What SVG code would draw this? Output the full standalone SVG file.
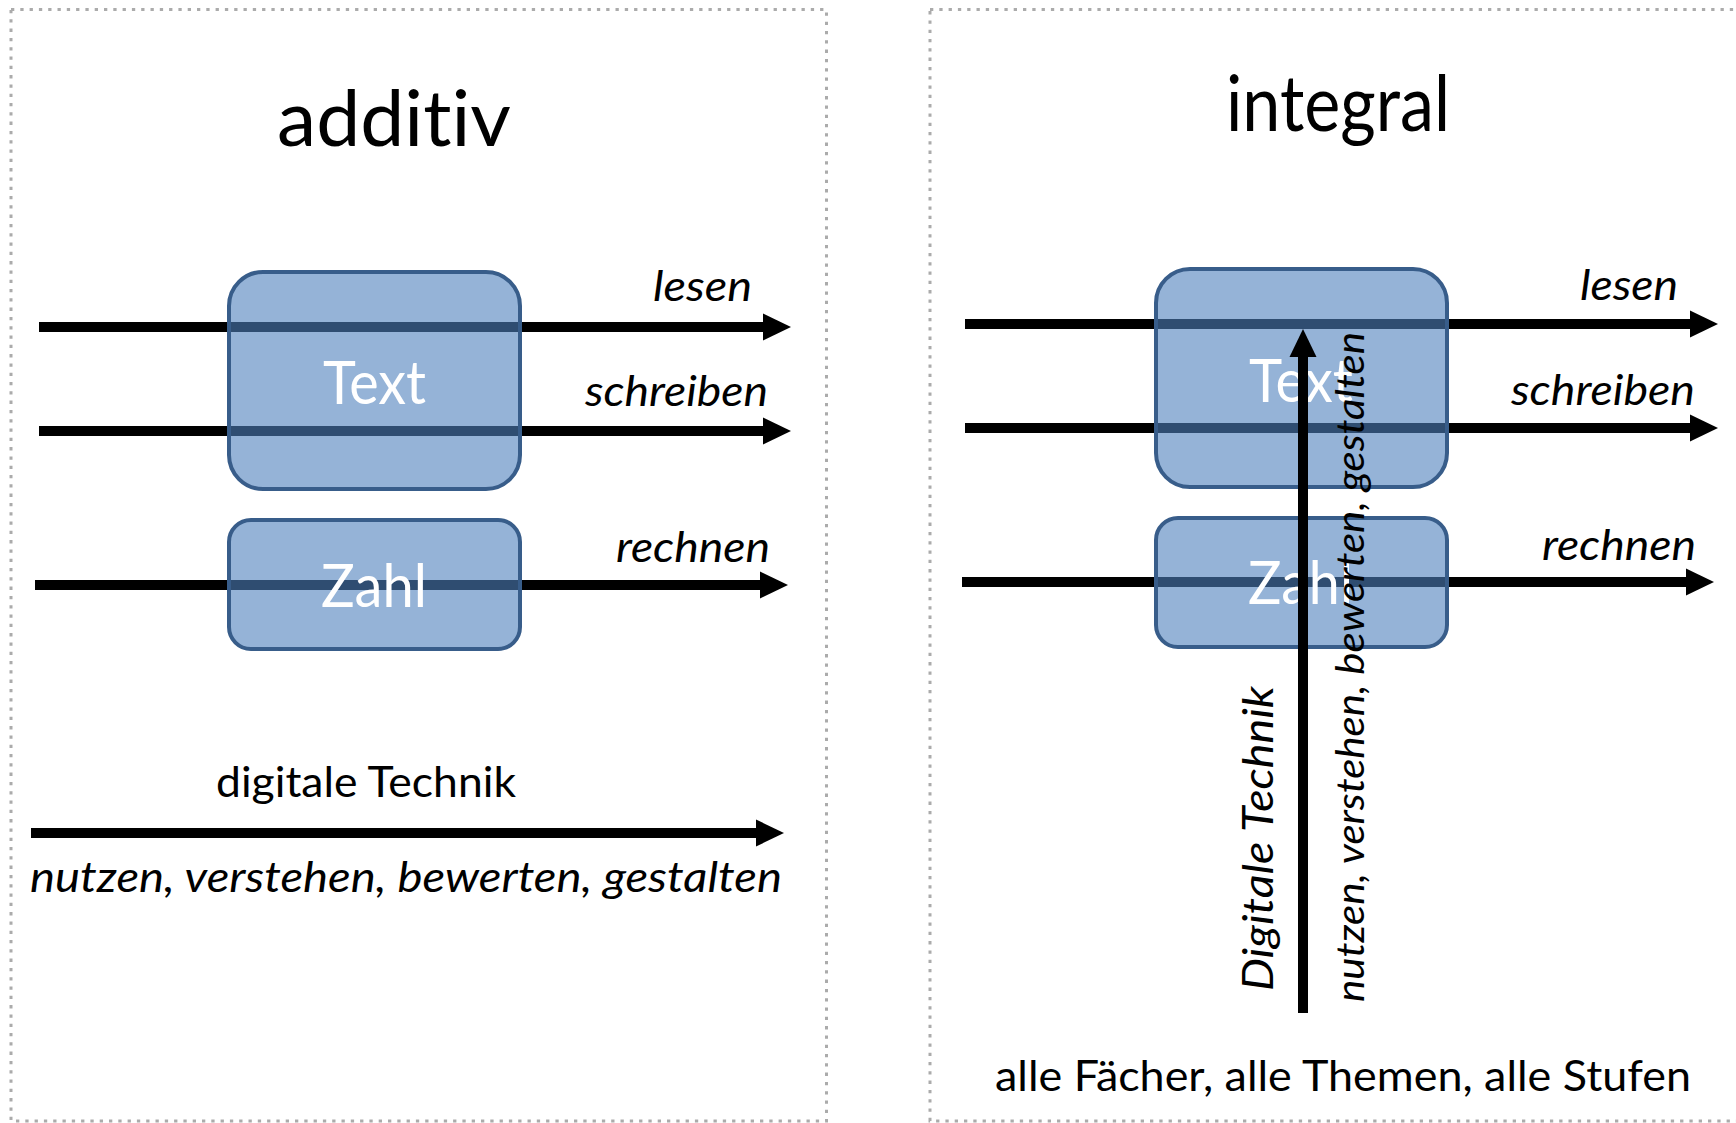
<svg xmlns="http://www.w3.org/2000/svg" width="1736" height="1123" viewBox="0 0 1736 1123">
  <defs>
    <marker id="ah" markerUnits="userSpaceOnUse" markerWidth="30" markerHeight="28" refX="0" refY="13.5" orient="auto" overflow="visible">
      <path d="M0,0 L28,13.5 L0,27 Z" fill="#000"/>
    </marker>
    <style>
      text { font-variant-ligatures: none; font-feature-settings: "liga" 0, "clig" 0; }
      .panel { fill: none; stroke: #ABABAB; stroke-width: 3; stroke-dasharray: 3.3 6; }
      .line { stroke: #000; stroke-width: 10; fill: none; marker-end: url(#ah); }
      .box { fill: #4F81BD; fill-opacity: 0.6; stroke: #385D8A; stroke-width: 4; }
      .boxlabel { font-family: Lato, "Open Sans", sans-serif; font-size: 60px; fill: #FFFFFF; }
      .title { font-family: Lato, "Open Sans", sans-serif; font-size: 77px; fill: #000; }
      .lbl { font-family: Lato, "Open Sans", sans-serif; font-size: 43px; font-style: italic; fill: #000; }
      .reg { font-family: Lato, "Open Sans", sans-serif; font-size: 43px; fill: #000; }
    </style>
  </defs>
  <rect width="1736" height="1123" fill="#FFFFFF"/>

  <g id="panels">
    <rect class="panel" x="11" y="9.5" width="815.5" height="1111.5"/>
    <rect class="panel" x="930" y="9.5" width="830" height="1111.5"/>
  </g>

  <g id="titles">
    <text class="title" x="277" y="146" textLength="234" lengthAdjust="spacingAndGlyphs">additiv</text>
    <text class="title" x="1226" y="131" textLength="224" lengthAdjust="spacingAndGlyphs">integral</text>
  </g>

  <g id="connectors">
    <line class="line" x1="39" y1="327" x2="763" y2="327"/>
    <line class="line" x1="39" y1="431" x2="763" y2="431"/>
    <line class="line" x1="35" y1="585" x2="760" y2="585"/>
    <line class="line" x1="31" y1="833" x2="756" y2="833"/>
    <line class="line" x1="965" y1="324" x2="1690" y2="324"/>
    <line class="line" x1="965" y1="428" x2="1690" y2="428"/>
    <line class="line" x1="962" y1="582" x2="1686" y2="582"/>
  </g>

  <g id="connector-labels">
    <text class="lbl" x="653" y="301" textLength="99" lengthAdjust="spacingAndGlyphs">lesen</text>
    <text class="lbl" x="585" y="406" textLength="183" lengthAdjust="spacingAndGlyphs">schreiben</text>
    <text class="lbl" x="616" y="562" textLength="154" lengthAdjust="spacingAndGlyphs">rechnen</text>
    <text class="reg" x="216" y="797" textLength="300" lengthAdjust="spacingAndGlyphs">digitale Technik</text>
    <text class="lbl" x="30" y="892" textLength="752" lengthAdjust="spacingAndGlyphs">nutzen, verstehen, bewerten, gestalten</text>
    <text class="lbl" x="1580" y="300" textLength="98" lengthAdjust="spacingAndGlyphs">lesen</text>
    <text class="lbl" x="1511" y="405" textLength="184" lengthAdjust="spacingAndGlyphs">schreiben</text>
    <text class="lbl" x="1542" y="560" textLength="154" lengthAdjust="spacingAndGlyphs">rechnen</text>
    <text class="reg" x="995" y="1091" textLength="696" lengthAdjust="spacingAndGlyphs">alle Fächer, alle Themen, alle Stufen</text>
  </g>

  <g id="node-text-left">
    <rect class="box" x="229" y="272" width="291" height="217" rx="34" ry="34"/>
    <text class="boxlabel" x="323" y="404" textLength="103" lengthAdjust="spacingAndGlyphs">Text</text>
  </g>
  <g id="node-zahl-left">
    <rect class="box" x="229" y="520" width="291" height="129" rx="22" ry="22"/>
    <text class="boxlabel" x="321" y="607" textLength="106" lengthAdjust="spacingAndGlyphs">Zahl</text>
  </g>
  <g id="node-text-right">
    <rect class="box" x="1156" y="269" width="291" height="218" rx="34" ry="34"/>
    <text class="boxlabel" x="1249" y="402" textLength="104" lengthAdjust="spacingAndGlyphs">Text</text>
  </g>
  <g id="node-zahl-right">
    <rect class="box" x="1156" y="518" width="291" height="129" rx="22" ry="22"/>
    <text class="boxlabel" x="1248" y="604" textLength="105" lengthAdjust="spacingAndGlyphs">Zahl</text>
  </g>

  <g id="connector-vertical">
    <line class="line" x1="1303" y1="1013" x2="1303" y2="357"/>
    <text class="lbl" transform="translate(1273,991) rotate(-90)" textLength="305" lengthAdjust="spacingAndGlyphs">Digitale Technik</text>
    <text class="lbl" style="font-size:39px" transform="translate(1364,1002) rotate(-90)" textLength="670" lengthAdjust="spacingAndGlyphs">nutzen, verstehen, bewerten, gestalten</text>
  </g>
</svg>
